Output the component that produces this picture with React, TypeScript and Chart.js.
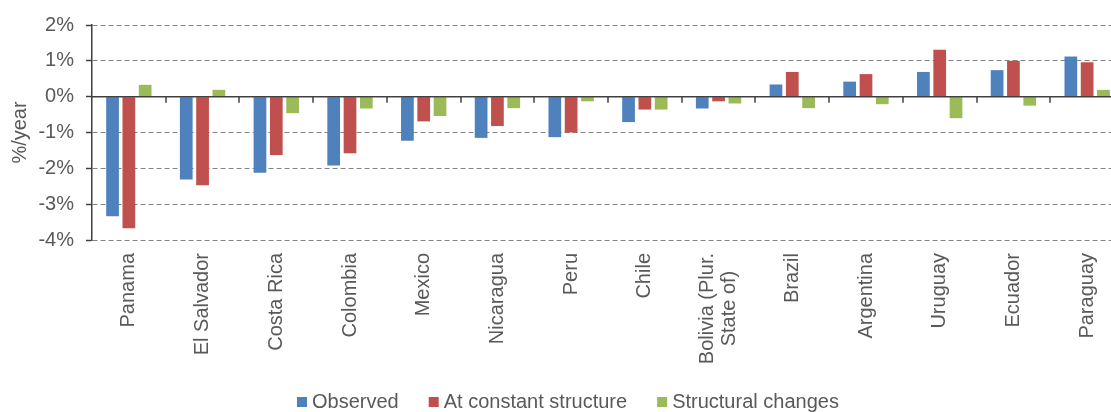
import React, { useEffect, useRef } from 'react';
import { Chart, registerables } from 'chart.js';

Chart.register(...registerables);

const categories: (string | string[])[] = [
  'Panama',
  'El Salvador',
  'Costa Rica',
  'Colombia',
  'Mexico',
  'Nicaragua',
  'Peru',
  'Chile',
  ['Bolivia (Plur.', 'State of)'],
  'Brazil',
  'Argentina',
  'Uruguay',
  'Ecuador',
  'Paraguay',
];

const observed = [-3.34, -2.31, -2.12, -1.92, -1.23, -1.15, -1.13, -0.71, -0.33, 0.34, 0.42, 0.69, 0.74, 1.12];
const constantStructure = [-3.67, -2.47, -1.63, -1.58, -0.69, -0.82, -1.0, -0.36, -0.13, 0.69, 0.63, 1.31, 1.0, 0.96];
const structuralChanges = [0.33, 0.19, -0.46, -0.33, -0.54, -0.32, -0.13, -0.36, -0.19, -0.32, -0.21, -0.6, -0.25, 0.19];

const seriesNames = ['Observed', 'At constant structure', 'Structural changes'];
const seriesColors = ['#4F81BD', '#C0504D', '#9BBB59'];

const yMin = -4;
const yMax = 2;
const yStep = 1;
const yTitle = '%/year';

const FONT = '"Liberation Sans", Arial, Helvetica, sans-serif';
const TEXT = '#595959';

const zeroLinePlugin = {
  id: 'zeroLine',
  afterDatasetsDraw(chart: any) {
    const { ctx, chartArea, scales } = chart;
    const x = scales.x;
    const y = scales.y;
    const y0 = y.getPixelForValue(0);
    const n = chart.data.labels.length;
    ctx.save();
    ctx.strokeStyle = '#404040';
    ctx.lineWidth = 1.5;
    ctx.beginPath();
    ctx.moveTo(chartArea.left, y0);
    ctx.lineTo(chartArea.right, y0);
    for (let i = 1; i <= n; i++) {
      const px = Math.round(x.getPixelForValue(i - 0.5));
      ctx.moveTo(px, y0);
      ctx.lineTo(px, y0 + 6);
    }
    ctx.stroke();
    ctx.restore();
  },
};

const xLabelPlugin = {
  id: 'xLabels',
  afterDraw(chart: any) {
    const { ctx, scales } = chart;
    const x = scales.x;
    const top = x.top + 13;
    const lh = 22;
    ctx.save();
    ctx.font = `20px ${FONT}`;
    ctx.fillStyle = TEXT;
    chart.data.labels.forEach((lab: string | string[], i: number) => {
      const lines = Array.isArray(lab) ? lab : [lab];
      const px = x.getPixelForValue(i);
      const maxW = Math.max(...lines.map((l) => ctx.measureText(l).width));
      ctx.save();
      ctx.translate(px, top);
      ctx.rotate(-Math.PI / 2);
      ctx.textAlign = 'center';
      ctx.textBaseline = 'middle';
      lines.forEach((l, j) => {
        ctx.fillText(l, -maxW / 2, (j - (lines.length - 1) / 2) * lh);
      });
      ctx.restore();
    });
    ctx.restore();
  },
};

const legendPlugin = {
  id: 'customLegend',
  afterDraw(chart: any) {
    const { ctx } = chart;
    let cx = 297;
    const sqTop = 397;
    const baseline = 408;
    ctx.save();
    ctx.font = `20px ${FONT}`;
    ctx.textAlign = 'left';
    ctx.textBaseline = 'alphabetic';
    chart.data.datasets.forEach((ds: any) => {
      ctx.fillStyle = ds.backgroundColor;
      ctx.fillRect(cx, sqTop, 10, 10);
      ctx.fillStyle = TEXT;
      ctx.fillText(ds.label, cx + 15, baseline);
      cx += 15 + ctx.measureText(ds.label).width + 30;
    });
    ctx.restore();
  },
};

export default function App() {
  const canvasRef = useRef<HTMLCanvasElement | null>(null);

  useEffect(() => {
    if (!canvasRef.current) return;
    Chart.defaults.font.family = FONT;
    const series = [observed, constantStructure, structuralChanges];
    const chart = new Chart(canvasRef.current, {
      type: 'bar',
      data: {
        labels: categories as any,
        datasets: series.map((data, i) => ({
          label: seriesNames[i],
          data,
          backgroundColor: seriesColors[i],
          borderWidth: 0,
          categoryPercentage: 0.664,
          barPercentage: 0.78,
        })),
      },
      options: {
        responsive: false,
        maintainAspectRatio: false,
        animation: false,
        devicePixelRatio: 1,
        layout: { padding: { top: 25, right: 16, bottom: 0, left: 0 } },
        plugins: {
          legend: { display: false },
          tooltip: { enabled: false },
        },
        scales: {
          x: {
            grid: { display: false, drawTicks: false },
            border: { display: false },
            ticks: { display: false },
            afterFit: (scale: any) => {
              scale.height = 172;
            },
          },
          y: {
            min: yMin,
            max: yMax,
            afterFit: (scale: any) => {
              scale.width = 92;
            },
            ticks: {
              stepSize: yStep,
              padding: 12,
              color: TEXT,
              font: { size: 20, family: FONT },
              callback: (v: any) => `${v}%`,
            },
            grid: {
              color: (c: any) => (c.tick && c.tick.value === 0 ? 'rgba(0,0,0,0)' : '#858585'),
              lineWidth: 1,
              tickLength: 6,
              tickColor: '#404040',
              tickWidth: 1.5,
            },
            border: {
              display: true,
              color: '#404040',
              width: 1.5,
              dash: (c: any) => (c.tick && c.tick.value === 0 ? [] : [5, 3]),
            },
            title: {
              display: true,
              text: yTitle,
              color: TEXT,
              font: { size: 20, family: FONT },
              padding: { top: 8, bottom: 0 },
            },
          },
        },
      },
      plugins: [zeroLinePlugin, xLabelPlugin, legendPlugin],
    } as any);
    return () => chart.destroy();
  }, []);

  return (
    <div
      style={{
        position: 'fixed',
        left: 0,
        top: 0,
        width: 1111,
        height: 412,
        overflow: 'hidden',
        background: '#ffffff',
      }}
    >
      <canvas ref={canvasRef} width={1140} height={412} style={{ display: 'block', width: 1140, height: 412 }} />
    </div>
  );
}
